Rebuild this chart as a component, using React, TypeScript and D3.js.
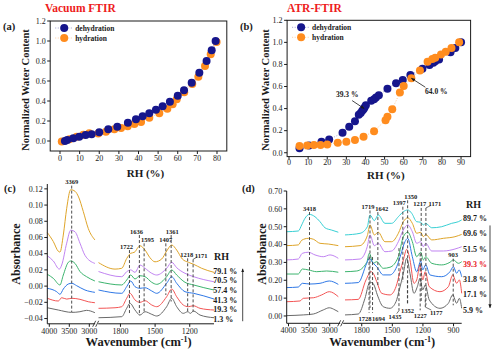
import React from 'react'
import * as d3 from 'd3'

type Pt = [number, number]

const SERIF = '"Liberation Serif", "Times New Roman", serif'
const INK = '#1a1a1a'
const NAVY = '#16168c'
const ORANGE = '#ff8c1e'
const RED_TITLE = '#ee1c1c'

// ---- (a) Vacuum FTIR : [RH %, normalized water content]
const dehydrationA: Pt[] = [
  [2.5, 0.0], [3.7, 0.01], [6.8, 0.027], [9.8, 0.043], [13.1, 0.06], [16.1, 0.067],
  [20, 0.087], [24.6, 0.117], [29.2, 0.143], [34.6, 0.183], [38.7, 0.217], [42.1, 0.247],
  [45.5, 0.277], [48.9, 0.313], [52.3, 0.347], [56, 0.393], [60, 0.453], [63.2, 0.507],
  [67.1, 0.583], [71, 0.683], [74.7, 0.8], [77.3, 0.907], [79.3, 1.0],
]
const hydrationA: Pt[] = [
  [0.9, -0.004], [4.8, 0.017], [8.5, 0.043], [11.9, 0.063], [14.9, 0.077], [19.5, 0.076],
  [23.4, 0.093], [27.7, 0.117], [31.1, 0.13], [34.5, 0.147], [37.9, 0.17], [41.3, 0.19],
  [45.5, 0.233], [50.6, 0.277], [54.7, 0.323], [57.4, 0.367], [59.5, 0.417], [63.3, 0.487],
  [67.4, 0.57], [70.5, 0.643], [73.9, 0.75], [76.8, 0.867], [79.8, 0.99],
]

// ---- (b) ATR-FTIR
const dehydrationB: Pt[] = [
  [5.5, 0.04], [10.5, 0.065], [17, 0.1], [21, 0.12], [28, 0.18], [31.5, 0.235],
  [34.5, 0.285], [36.5, 0.345], [37.5, 0.36], [38.3, 0.38], [39, 0.395], [39.5, 0.41],
  [40.2, 0.43], [43, 0.47], [44.5, 0.485], [45.5, 0.5], [47, 0.52], [51.5, 0.58],
  [56, 0.63], [59.5, 0.66], [63.5, 0.705], [69.8, 0.76], [73.5, 0.795], [75.5, 0.815],
  [76.5, 0.83], [78.5, 0.845], [84.5, 0.91], [87, 0.95], [90, 1.0],
]
const hydrationB: Pt[] = [
  [5.5, 0.06], [9.5, 0.065], [13, 0.07], [16.5, 0.07], [20, 0.075], [25.5, 0.09],
  [30, 0.1], [34.5, 0.115], [39, 0.145], [44.5, 0.195], [50.5, 0.295], [51.5, 0.325],
  [54, 0.395], [58, 0.545], [60, 0.605], [64, 0.675], [68.5, 0.745], [72.5, 0.825],
  [75, 0.85], [76.5, 0.86], [79.5, 0.89], [82, 0.915], [85, 0.95], [89, 1.0],
]
const annotationsB = [
  { label: '39.3 %', rh: 39.3, value: 0.40, dx: -12, dy: -8 },
  { label: '64.0 %', rh: 64.0, value: 0.675, dx: 14, dy: 9 },
]

// ---- (c) Vacuum FTIR spectra : [wavenumber, absorbance], left = O-H region, right = fingerprint
const c791L: Pt[] = [[4050, 0.066], [3900, 0.055], [3775, 0.043], [3733, 0.042], [3650, 0.063], [3565, 0.096], [3465, 0.119], [3357, 0.117], [3268, 0.11], [3150, 0.092], [3025, 0.071], [2860, 0.057]]
const c791R: Pt[] = [[1990, 0.029], [1847, 0.021], [1789, 0.022], [1746, 0.034], [1711, 0.0405], [1680, 0.0417], [1631, 0.0498], [1587, 0.0445], [1544, 0.035], [1501, 0.03], [1443, 0.0334], [1400, 0.0433], [1356, 0.0507], [1313, 0.0445], [1264, 0.0334], [1212, 0.0294], [1166, 0.0269], [1097, 0.022], [990, 0.017]]
const c705L: Pt[] = [[4050, 0.0375], [3900, 0.031], [3750, 0.021], [3690, 0.026], [3565, 0.053], [3465, 0.069], [3357, 0.067], [3233, 0.053], [3108, 0.038], [2860, 0.028]]
const c705R: Pt[] = [[1990, 0.018], [1789, 0.0116], [1746, 0.0178], [1711, 0.02], [1674, 0.017], [1631, 0.026], [1587, 0.022], [1529, 0.0158], [1486, 0.0137], [1400, 0.022], [1356, 0.0294], [1313, 0.0227], [1241, 0.0158], [1166, 0.0116], [990, 0.0054]]
const c574L: Pt[] = [[4050, 0.0146], [3900, 0.0096], [3733, 0.0014], [3650, 0.0137], [3525, 0.0294], [3465, 0.031], [3357, 0.028], [3233, 0.018], [3067, 0.0116], [2860, 0.0063]]
const c574R: Pt[] = [[1990, 0.0054], [1789, 0.0014], [1746, 0.0075], [1711, 0.0137], [1674, 0.0088], [1631, 0.0128], [1587, 0.0116], [1529, 0.0047], [1486, 0.0022], [1400, 0.0116], [1356, 0.0199], [1313, 0.0137], [1241, 0.0047], [1166, 0.0014], [990, -0.0048]]
const c413L: Pt[] = [[4050, -0.0027], [3815, -0.0069], [3733, -0.0101], [3650, -0.0036], [3525, 0.0026], [3440, 0.0035], [3315, 0.0005], [3108, -0.0048], [2860, -0.0077]]
const c413R: Pt[] = [[1990, -0.0048], [1789, -0.0089], [1746, -0.0007], [1711, 0.0063], [1674, -0.0007], [1631, -0.0027], [1587, -0.002], [1529, -0.006], [1486, -0.0089], [1400, 0.0035], [1356, 0.0116], [1313, 0.0035], [1241, -0.0069], [1166, -0.0089], [990, -0.0159]]
const c193L: Pt[] = [[4050, -0.015], [3775, -0.0184], [3690, -0.0143], [3565, -0.016], [3440, -0.015], [3233, -0.0163], [3025, -0.0193], [2860, -0.0205]]
const c193R: Pt[] = [[1990, -0.0274], [1847, -0.0267], [1789, -0.0254], [1746, -0.015], [1717, -0.0089], [1674, -0.0171], [1631, -0.02], [1587, -0.018], [1529, -0.0233], [1486, -0.0254], [1400, -0.0131], [1356, -0.0036], [1313, -0.0131], [1256, -0.0233], [1212, -0.0254], [1169, -0.0242], [1111, -0.0274], [990, -0.0295]]
const c013L: Pt[] = [[4050, -0.0267], [3775, -0.0295], [3440, -0.0324], [3233, -0.0316], [3067, -0.0299], [2860, -0.0328]]
const c013R: Pt[] = [[1990, -0.039], [1789, -0.0377], [1746, -0.0274], [1717, -0.0212], [1674, -0.0295], [1631, -0.0357], [1587, -0.0316], [1529, -0.0348], [1486, -0.0369], [1400, -0.0254], [1356, -0.015], [1313, -0.0254], [1256, -0.0336], [1217, -0.0316], [1194, -0.0336], [1168, -0.0307], [1111, -0.0357], [990, -0.039]]

// ---- (d) ATR-FTIR spectra
const d897L: Pt[] = [[4044, 0.472], [3762, 0.476], [3680, 0.51], [3600, 0.547], [3495, 0.569], [3357, 0.556], [3235, 0.528], [3114, 0.494], [2951, 0.481], [2791, 0.469]]
const d897R: Pt[] = [[1964, 0.454], [1817, 0.463], [1745, 0.5], [1719, 0.566], [1677, 0.534], [1638, 0.566], [1572, 0.519], [1506, 0.519], [1441, 0.556], [1392, 0.584], [1349, 0.594], [1310, 0.575], [1261, 0.528], [1222, 0.525], [1196, 0.51], [1173, 0.519], [1114, 0.494], [1016, 0.5], [918, 0.519], [853, 0.528], [820, 0.538]]
const d696L: Pt[] = [[4044, 0.394], [3762, 0.398], [3680, 0.424], [3519, 0.435], [3398, 0.43], [3235, 0.407], [3034, 0.403], [2791, 0.394]]
const d696R: Pt[] = [[1964, 0.388], [1817, 0.394], [1745, 0.45], [1719, 0.51], [1677, 0.454], [1638, 0.469], [1572, 0.416], [1506, 0.416], [1441, 0.463], [1392, 0.528], [1349, 0.55], [1304, 0.519], [1261, 0.463], [1222, 0.469], [1196, 0.444], [1173, 0.457], [1114, 0.426], [1000, 0.435], [886, 0.444], [820, 0.457]]
const d515L: Pt[] = [[4044, 0.314], [3762, 0.319], [3665, 0.351], [3519, 0.357], [3357, 0.342], [3155, 0.332], [2993, 0.342], [2791, 0.323]]
const d515R: Pt[] = [[1964, 0.314], [1817, 0.319], [1745, 0.39], [1719, 0.454], [1677, 0.394], [1638, 0.407], [1572, 0.36], [1506, 0.364], [1441, 0.416], [1392, 0.482], [1349, 0.51], [1304, 0.472], [1261, 0.407], [1222, 0.416], [1196, 0.388], [1173, 0.407], [1114, 0.364], [1000, 0.364], [886, 0.375], [820, 0.388]]
const d393L: Pt[] = [[4044, 0.235], [3762, 0.235], [3665, 0.263], [3519, 0.258], [3316, 0.248], [3073, 0.252], [2791, 0.245]]
const d393R: Pt[] = [[1964, 0.248], [1849, 0.252], [1751, 0.3], [1726, 0.351], [1687, 0.295], [1653, 0.304], [1589, 0.267], [1523, 0.273], [1441, 0.332], [1392, 0.444], [1349, 0.469], [1304, 0.416], [1261, 0.332], [1222, 0.357], [1196, 0.314], [1173, 0.332], [1114, 0.295], [1016, 0.286], [935, 0.301], [902, 0.314], [853, 0.295], [820, 0.304]]
const d318L: Pt[] = [[4044, 0.159], [3762, 0.162], [3665, 0.183], [3478, 0.179], [3235, 0.183], [3010, 0.196], [2791, 0.177]]
const d318R: Pt[] = [[1964, 0.183], [1834, 0.187], [1751, 0.295], [1726, 0.323], [1687, 0.295], [1653, 0.276], [1589, 0.23], [1523, 0.23], [1457, 0.276], [1418, 0.342], [1376, 0.416], [1349, 0.435], [1304, 0.332], [1261, 0.248], [1222, 0.308], [1202, 0.258], [1173, 0.286], [1131, 0.23], [1016, 0.22], [935, 0.248], [902, 0.276], [869, 0.239], [846, 0.258], [820, 0.22]]
const d171L: Pt[] = [[4044, 0.08], [3721, 0.084], [3641, 0.099], [3398, 0.102], [3194, 0.118], [3010, 0.136], [2791, 0.108]]
const d171R: Pt[] = [[1964, 0.09], [1834, 0.093], [1758, 0.202], [1709, 0.248], [1687, 0.239], [1653, 0.192], [1604, 0.127], [1523, 0.118], [1464, 0.164], [1425, 0.248], [1392, 0.314], [1359, 0.373], [1327, 0.314], [1288, 0.183], [1261, 0.202], [1229, 0.286], [1202, 0.202], [1177, 0.248], [1138, 0.164], [1033, 0.136], [951, 0.164], [908, 0.23], [869, 0.183], [843, 0.202], [820, 0.127]]
const d059L: Pt[] = [[4044, 0.002], [3641, 0.006], [3398, 0.011], [3155, 0.034], [3010, 0.046], [2871, 0.034], [2791, 0.024]]
const d059R: Pt[] = [[1964, 0.006], [1834, 0.011], [1768, 0.099], [1726, 0.183], [1702, 0.187], [1680, 0.174], [1647, 0.118], [1589, 0.052], [1523, 0.043], [1464, 0.08], [1432, 0.146], [1392, 0.239], [1359, 0.323], [1327, 0.239], [1288, 0.127], [1255, 0.164], [1229, 0.211], [1202, 0.146], [1177, 0.174], [1138, 0.09], [1033, 0.043], [951, 0.071], [908, 0.118], [869, 0.071], [843, 0.099], [820, 0.043]]

// peak markers: at = wavenumber where the dashed line sits, y1/y2 = absorbance span
const peaksC = [
  { label: '3369', at: 3440, seg: 'L', y1: 0.124, y2: -0.032, side: 'top', shift: 0 },
  { label: '1722', at: 1722, seg: 'R', y1: 0.0445, y2: -0.0357, side: 'top', shift: -3 },
  { label: '1636', at: 1636, seg: 'R', y1: 0.063, y2: -0.036, side: 'top', shift: -3 },
  { label: '1595', at: 1595, seg: 'R', y1: 0.0528, y2: -0.0336, side: 'top', shift: 3.5 },
  { label: '1407', at: 1407, seg: 'R', y1: 0.0528, y2: -0.011, side: 'top', shift: 0 },
  { label: '1361', at: 1361, seg: 'R', y1: 0.063, y2: -0.019, side: 'top', shift: 1 },
  { label: '1218', at: 1218, seg: 'R', y1: 0.0343, y2: -0.0336, side: 'top', shift: -1 },
  { label: '1171', at: 1171, seg: 'R', y1: 0.033, y2: -0.0316, side: 'top', shift: 8, leader: true },
]
const peaksD = [
  { label: '3418', at: 3490, seg: 'L', y1: 0.582, y2: 0.005, side: 'top', shift: 0 },
  { label: '1719', at: 1719, seg: 'R', y1: 0.591, y2: 0.045, side: 'top', shift: -2 },
  { label: '1642', at: 1642, seg: 'R', y1: 0.582, y2: 0.17, side: 'top', shift: 4 },
  { label: '1397', at: 1397, seg: 'R', y1: 0.612, y2: 0.19, side: 'top', shift: -3.5 },
  { label: '1350', at: 1350, seg: 'R', y1: 0.648, y2: 0.06, side: 'top', shift: 3 },
  { label: '1217', at: 1217, seg: 'R', y1: 0.605, y2: 0.08, side: 'top', shift: -1.5 },
  { label: '1171', at: 1171, seg: 'R', y1: 0.605, y2: 0.06, side: 'top', shift: 9, leader: true },
  { label: '903', at: 903, seg: 'R', y1: 0.321, y2: 0.06, side: 'top', shift: 0 },
  { label: '1728', at: 1728, seg: 'R', y1: 0.33, y2: 0.018, side: 'bottom', shift: -4 },
  { label: '1694', at: 1694, seg: 'R', y1: 0.33, y2: 0.018, side: 'bottom', shift: 6 },
  { label: '1435', at: 1435, seg: 'R', y1: 0.38, y2: 0.03, side: 'bottom', shift: -4, leader: true },
  { label: '1352', at: 1352, seg: 'R', y1: 0.2, y2: 0.06, side: 'bottom', shift: 0 },
  { label: '1227', at: 1227, seg: 'R', y1: 0.35, y2: 0.032, side: 'bottom', shift: 0 },
  { label: '1177', at: 1177, seg: 'R', y1: 0.12, y2: 0.05, side: 'bottom', shift: 11, leader: true },
]

const GRAY = '#6a6a6a'
const RED = '#f35555'
const BLUE = '#2f78e6'
const GREEN = '#3cb46e'
const PURPLE = '#c184f2'
const GOLD = '#dfa52a'
const CYAN = '#38d0d4'

const spectraC = [
  { rh: '79.1 %', color: GOLD, left: c791L, right: c791R },
  { rh: '70.5 %', color: PURPLE, left: c705L, right: c705R },
  { rh: '57.4 %', color: GREEN, left: c574L, right: c574R },
  { rh: '41.3 %', color: BLUE, left: c413L, right: c413R },
  { rh: '19.3 %', color: RED, left: c193L, right: c193R },
  { rh: '1.3 %', color: GRAY, left: c013L, right: c013R },
]
const spectraD = [
  { rh: '89.7 %', color: CYAN, left: d897L, right: d897R },
  { rh: '69.6 %', color: GOLD, left: d696L, right: d696R },
  { rh: '51.5 %', color: PURPLE, left: d515L, right: d515R },
  { rh: '39.3 %', color: GREEN, left: d393L, right: d393R, hot: true },
  { rh: '31.8 %', color: BLUE, left: d318L, right: d318R },
  { rh: '17.1 %', color: RED, left: d171L, right: d171R },
  { rh: '5.9 %', color: GRAY, left: d059L, right: d059R },
]

const ticksA = d3.range(0, 81, 10)
const ticksB = d3.range(0, 91, 10)
const ticksWater = d3.range(0, 1.21, 0.2)
const ticksAbsC = [-0.04, -0.02, 0, 0.02, 0.04, 0.06, 0.08, 0.1, 0.12]
const ticksAbsD = [0, 0.1, 0.2, 0.3, 0.4, 0.5, 0.6, 0.7]
const ticksWnL = [4000, 3500, 3000]
const ticksWnRC = [1800, 1500, 1200]
const ticksWnRD = [1800, 1500, 1200, 900]

function Scatter({ xs, ys, xTicks, dehyd, hyd, orangeOnTop, annotations = [], title, titleX, tag, tagX, yTitleX, labelDy, rhY }: any) {
  const [x0, x1] = xs.range()
  const [yb, yt] = ys.range()
  const path = d3.line<Pt>().x(d => xs(d[0])).y(d => ys(d[1]))
  const dots = (data: Pt[], color: string) => data.map((d, i) => (
    <circle key={color + i} cx={xs(d[0])} cy={ys(d[1])} r={4} fill={color} />
  ))
  const fmt = d3.format('.1f')
  return (
    <g fontFamily={SERIF}>
      <text x={titleX} y={12} fill={RED_TITLE} fontWeight="bold" fontSize={11.5}>{title}</text>
      <text x={tagX} y={30} fontWeight="bold" fontSize={10.5} fill={INK}>{tag}</text>
      <path d={path(dehyd) || ''} fill="none" stroke={NAVY} strokeWidth={0.8} strokeDasharray="1,1.6" opacity={0.45} />
      <path d={path(hyd) || ''} fill="none" stroke={ORANGE} strokeWidth={0.8} strokeDasharray="1,1.6" opacity={0.6} />
      {orangeOnTop ? dots(dehyd, NAVY) : dots(hyd, ORANGE)}
      {orangeOnTop ? dots(hyd, ORANGE) : dots(dehyd, NAVY)}
      <rect x={x0} y={yt} width={x1 - x0} height={yb - yt} fill="none" stroke={INK} strokeWidth={1} />
      {xTicks.map((t: number) => (
        <g key={'x' + t}>
          <line x1={xs(t)} x2={xs(t)} y1={yb} y2={yb + 3} stroke={INK} />
          <text x={xs(t)} y={yb + labelDy} textAnchor="middle" fontSize={8} fill={INK}>{t}</text>
        </g>
      ))}
      {ticksWater.map(t => (
        <g key={'y' + t}>
          <line x1={x0 - 3} x2={x0} y1={ys(t)} y2={ys(t)} stroke={INK} />
          <text x={x0 - 4.5} y={ys(t)} dy="0.35em" textAnchor="end" fontSize={8} fill={INK}>{fmt(t)}</text>
        </g>
      ))}
      <text x={(x0 + x1) / 2 + 7} y={rhY} dy="0.35em" textAnchor="middle" fontWeight="bold" fontSize={11} fill={INK}>RH (%)</text>
      <text transform={`translate(${yTitleX},90) rotate(-90)`} dy="0.35em" textAnchor="middle" fontWeight="bold" fontSize={10.5} fill={INK}>Normalized Water Content</text>
      {/* legend */}
      {[{ name: 'dehydration', color: NAVY }, { name: 'hydration', color: ORANGE }].map((s, i) => {
        const lx = x0 + 14
        const ly = yt + 7 + i * 10
        return (
          <g key={s.name}>
            <line x1={lx - 9} x2={lx + 9} y1={ly} y2={ly} stroke={s.color} strokeDasharray="1,1.6" strokeWidth={0.8} opacity={0.5} />
            <circle cx={lx} cy={ly} r={4} fill={s.color} />
            <text x={lx + 11} y={ly} dy="0.35em" fontWeight="bold" fontSize={7.5} fill={INK}>{s.name}</text>
          </g>
        )
      })}
      {annotations.map((a: any) => {
        const tx = xs(a.rh), ty = ys(a.value)
        return (
          <g key={a.label}>
            <line x1={tx + a.dx} y1={ty + a.dy} x2={tx} y2={ty} stroke={INK} strokeWidth={0.8} markerEnd="url(#arrowSmall)" />
            <text x={tx + a.dx + (a.dx < 0 ? -5 : 11)} y={ty + a.dy + (a.dx < 0 ? -4 : 7)} textAnchor="middle" fontWeight="bold" fontSize={7.5} fill={INK}>{a.label}</text>
          </g>
        )
      })}
    </g>
  )
}

function Spectra({ xl, xr, ys, spectra, peaks, yTicks, ticksR, tag, tagX, yTitleX, labelX, rhX, arrowX, arrowDown }: any) {
  const [yb, yt] = ys.range()
  const left = xl.range()[0]
  const right = xr.range()[1]
  const brk = (xl.range()[1] + xr.range()[0]) / 2
  const lineL = d3.line<Pt>().x(d => xl(d[0])).y(d => ys(d[1])).curve(d3.curveMonotoneX)
  const lineR = d3.line<Pt>().x(d => xr(d[0])).y(d => ys(d[1])).curve(d3.curveMonotoneX)
  const fmt = d3.format('.2f')
  const ends = spectra.map((s: any) => s.right[s.right.length - 1][1])
  const rowY = d3.scalePoint().domain(spectra.map((s: any) => s.rh))
    .range([ys(ends[0]) - 1.5, ys(ends[ends.length - 1]) + 1.5])
  const topRow = rowY(spectra[0].rh) as number
  const botRow = rowY(spectra[spectra.length - 1].rh) as number
  return (
    <g fontFamily={SERIF}>
      <text x={tagX} y={192} fontWeight="bold" fontSize={10.5} fill={INK}>{tag}</text>
      {spectra.map((s: any) => (
        <g key={s.rh} fill="none" stroke={s.color} strokeWidth={1}>
          <path d={lineL(s.left) || ''} />
          <path d={lineR(s.right) || ''} />
        </g>
      ))}
      {peaks.map((p: any) => {
        const x = p.seg === 'L' ? xl(p.at) : xr(p.at)
        const top = p.side === 'top'
        const ly = top ? ys(p.y1) - 1.5 : ys(p.y2) + 8
        return (
          <g key={p.label + p.side}>
            <line x1={x} x2={x} y1={ys(p.y1)} y2={ys(p.y2)} stroke="#3a3a3a" strokeWidth={0.9} strokeDasharray="3,2" />
            {p.leader && (
              <line x1={x} y1={top ? ys(p.y1) : ys(p.y2)} x2={x + p.shift * 0.55} y2={top ? ys(p.y1) - 2.5 : ys(p.y2) + 3}
                stroke="#3a3a3a" strokeWidth={0.7} />
            )}
            <text x={x + p.shift} y={ly} textAnchor="middle" fontWeight="bold" fontSize={6.5} fill={INK}>{p.label}</text>
          </g>
        )
      })}
      {/* axes */}
      <line x1={left} x2={left} y1={yt} y2={yb} stroke={INK} />
      <line x1={left} x2={brk - 1.5} y1={yb} y2={yb} stroke={INK} />
      <line x1={brk + 1.5} x2={right} y1={yb} y2={yb} stroke={INK} />
      <line x1={brk - 4} y1={yb + 3} x2={brk - 1} y2={yb - 3} stroke={INK} strokeWidth={0.8} />
      <line x1={brk - 1} y1={yb + 3} x2={brk + 2} y2={yb - 3} stroke={INK} strokeWidth={0.8} />
      {yTicks.map((t: number) => (
        <g key={'y' + t}>
          <line x1={left - 3} x2={left} y1={ys(t)} y2={ys(t)} stroke={INK} />
          <text x={left - 4.5} y={ys(t)} dy="0.35em" textAnchor="end" fontSize={8} fill={INK}>{fmt(t)}</text>
        </g>
      ))}
      {ticksWnL.map(t => (
        <g key={'l' + t}>
          <line x1={xl(t)} x2={xl(t)} y1={yb} y2={yb + 3} stroke={INK} />
          <text x={xl(t)} y={yb + 10} textAnchor="middle" fontSize={8} fill={INK}>{t}</text>
        </g>
      ))}
      {ticksR.map((t: number) => (
        <g key={'r' + t}>
          <line x1={xr(t)} x2={xr(t)} y1={yb} y2={yb + 3} stroke={INK} />
          <text x={xr(t)} y={yb + 10} textAnchor="middle" fontSize={8} fill={INK}>{t}</text>
        </g>
      ))}
      <text x={(left + right) / 2 + 8} y={341.5} dy="0.35em" textAnchor="middle" fontWeight="bold" fontSize={12.5} fill={INK}>
        Wavenumber (cm<tspan dy={-4} fontSize={8}>-1</tspan><tspan dy={4}>)</tspan>
      </text>
      <text transform={`translate(${yTitleX},254) rotate(-90)`} dy="0.35em" textAnchor="middle" fontWeight="bold" fontSize={12} fill={INK}>Absorbance</text>
      {/* RH column */}
      <text x={rhX} y={topRow - 14} dy="0.35em" fontWeight="bold" fontSize={10} fill={INK}>RH</text>
      {spectra.map((s: any) => (
        <text key={'t' + s.rh} x={labelX} y={rowY(s.rh)} dy="0.35em" fontWeight="bold" fontSize={8} fill={s.hot ? '#e8161d' : INK}>{s.rh}</text>
      ))}
      <line x1={arrowX} x2={arrowX} y1={arrowDown ? topRow + 7 : botRow + 2} y2={arrowDown ? botRow - 2 : topRow - 2}
        stroke={INK} strokeWidth={0.8} markerEnd="url(#arrowSmall)" />
    </g>
  )
}

export default function App() {
  const xA = d3.scaleLinear().domain([-5, 85]).range([50.2, 226.8])
  const yA = d3.scaleLinear().domain([-0.1, 1.2]).range([151, 21])
  const xB = d3.scaleLinear().domain([-1, 95]).range([287.1, 470.6])
  const yB = d3.scaleLinear().domain([-0.035, 1.2]).range([156.6, 20.3])

  const xlC = d3.scaleLinear().domain([4050, 2860]).range([47.3, 94.9])
  const xrC = d3.scaleLinear().domain([1990, 990]).range([98.5, 214])
  const yC = d3.scaleLinear().domain([-0.0465, 0.126]).range([323.8, 184])
  const xlD = d3.scaleLinear().domain([4044, 2791]).range([286.7, 338.3])
  const xrD = d3.scaleLinear().domain([1964, 820]).range([345, 461.7])
  const yD = d3.scaleLinear().domain([-0.041, 0.70]).range([323.3, 191])

  return (
    <svg width={500} height={353} style={{ position: 'absolute', left: 0, top: 0, background: '#fff' }}>
      <defs>
        <marker id="arrowSmall" viewBox="0 0 10 10" refX="9" refY="5" markerWidth="5" markerHeight="5" orient="auto">
          <path d="M0,1 L10,5 L0,9 z" fill={INK} />
        </marker>
      </defs>
      <rect width={500} height={353} fill="#fff" />
      <Scatter xs={xA} ys={yA} xTicks={ticksA} dehyd={dehydrationA} hyd={hydrationA}
        title="Vacuum FTIR" titleX={45} tag="(a)" tagX={3} yTitleX={25} labelDy={10.3} rhY={173} />
      <Scatter xs={xB} ys={yB} xTicks={ticksB} dehyd={dehydrationB} hyd={hydrationB} orangeOnTop
        annotations={annotationsB} title="ATR-FTIR" titleX={287} tag="(b)" tagX={240} yTitleX={265} labelDy={8.3} rhY={175} />
      <Spectra xl={xlC} xr={xrC} ys={yC} spectra={spectraC} peaks={peaksC} yTicks={ticksAbsC} ticksR={ticksWnRC}
        tag="(c)" tagX={4} yTitleX={16} labelX={213.3} rhX={214} arrowX={242.7} />
      <Spectra xl={xlD} xr={xrD} ys={yD} spectra={spectraD} peaks={peaksD} yTicks={ticksAbsD} ticksR={ticksWnRD}
        tag="(d)" tagX={242} yTitleX={262} labelX={463} rhX={466} arrowX={490} arrowDown />
    </svg>
  )
}
